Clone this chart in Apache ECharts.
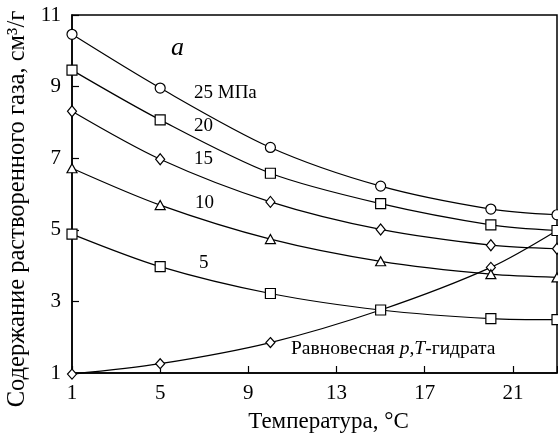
<!DOCTYPE html>
<html>
<head>
<meta charset="utf-8">
<script src="https://cdn.jsdelivr.net/npm/echarts@6/dist/echarts.min.js"></script>
<style>
html,body{margin:0;padding:0;background:#fff;}
#chart{width:558px;height:434px;}
</style>
</head>
<body>
<div id="chart"></div>
<script>
// Temperatures, °C
const temps = [1, 5, 10, 15, 20, 23];
// Dissolved gas content, cm3/g, by pressure
const p25 = [10.46, 8.96, 7.30, 6.22, 5.58, 5.42];
const p20 = [9.46, 8.07, 6.58, 5.73, 5.14, 4.98];
const p15 = [8.31, 6.97, 5.78, 5.01, 4.57, 4.47];
const p10 = [6.72, 5.69, 4.74, 4.12, 3.76, 3.67];
const p5  = [4.88, 3.97, 3.22, 2.76, 2.52, 2.49];
// Hydrate equilibrium p,T curve
const eqTemps = [1, 5, 10, 15, 20, 23];
const eqVals  = [0.97, 1.26, 1.85, 2.76, 3.95, 4.98];
const eqMarked = [true, true, true, false, true, false];
// Axis ticks
const xTicks = [1, 5, 9, 13, 17, 21];
const yTicks = [1, 3, 5, 7, 9, 11];
const curveLabels = ['25 МПа', '20', '15', '10', '5'];

const FONT = "'Liberation Serif', 'Times New Roman', serif";
const chart = echarts.init(document.getElementById('chart'));

function mk(vals, symbol, size) {
  return {
    type: 'line',
    data: temps.map((t, i) => [t, vals[i]]),
    smooth: 0.3,
    symbol: symbol,
    symbolSize: size,
    showAllSymbol: true,
    clip: false,
    lineStyle: {color: '#000', width: 1.2},
    itemStyle: {color: '#fff', borderColor: '#000', borderWidth: 1.2},
    emphasis: {disabled: true},
    z: 3
  };
}

const series = [
  mk(p25, 'circle', 10),
  mk(p20, 'rect', 10),
  mk(p15, 'diamond', [9, 11]),
  mk(p10, 'triangle', [10, 9]),
  mk(p5, 'rect', 10),
  {
    type: 'line',
    data: eqTemps.map((t, i) => eqMarked[i] ? [t, eqVals[i]] : {value: [t, eqVals[i]], symbol: 'none'}),
    smooth: 0.3,
    symbol: 'diamond',
    symbolSize: [9, 10],
    showAllSymbol: true,
    clip: false,
    lineStyle: {color: '#000', width: 1.2},
    itemStyle: {color: '#fff', borderColor: '#000', borderWidth: 1.2},
    emphasis: {disabled: true},
    z: 2
  }
];

const labelPos = [[194, 94], [194, 127], [194, 160], [195, 204], [199, 264]];

chart.setOption({
  animation: false,
  backgroundColor: '#fff',
  grid: {left: 72, right: 1, top: 15, bottom: 61, outerBoundsMode: 'none', containLabel: false,
    show: true, borderColor: '#000', borderWidth: 1.5, backgroundColor: 'transparent'},
  xAxis: {
    type: 'value', min: 1, max: 23, interval: 4,
    name: 'Температура, °С', nameLocation: 'middle', nameGap: 37,
    nameTextStyle: {fontFamily: FONT, fontSize: 23, color: '#000', padding: [0, 0, 0, 28]},
    axisLine: {show: true, lineStyle: {color: '#000', width: 1.5}},
    axisTick: {show: true, inside: true, length: 7, lineStyle: {color: '#000', width: 1.2}},
    axisLabel: {fontFamily: FONT, fontSize: 21, color: '#000', margin: 10,
      formatter: v => xTicks.indexOf(v) >= 0 ? String(v) : ''},
    splitLine: {show: false}
  },
  yAxis: {
    type: 'value', min: 1, max: 11, interval: 2,
    name: 'Содержание растворенного газа, см³/г', nameLocation: 'middle', nameGap: 35,
    nameTextStyle: {fontFamily: FONT, fontSize: 24.5, color: '#000', padding: [0, 30, 0, 0]},
    axisLine: {show: true, lineStyle: {color: '#000', width: 1.5}},
    axisTick: {show: true, inside: true, length: 7, lineStyle: {color: '#000', width: 1.2}},
    axisLabel: {fontFamily: FONT, fontSize: 21, color: '#000', margin: 11,
      formatter: v => yTicks.indexOf(v) >= 0 ? String(v) : ''},
    splitLine: {show: false}
  },
  series: series,
  graphic: [
    ...curveLabels.map((s, i) => ({
      type: 'text', left: labelPos[i][0], top: labelPos[i][1] - 10, z: 10,
      style: {text: s, font: '19px ' + FONT, fill: '#000'}
    })),
    {type: 'text', left: 171, top: 35, z: 10,
      style: {text: 'a', font: 'italic 26px ' + FONT, fill: '#000'}},
    {type: 'text', left: 291, top: 339, z: 10,
      style: {
        text: '{n|Равновесная }{i|p}{n|,}{i|T}{n|-гидрата}',
        rich: {
          n: {fontFamily: FONT, fontSize: 19.5, fill: '#000', color: '#000'},
          i: {fontFamily: FONT, fontSize: 19.5, fontStyle: 'italic', fill: '#000', color: '#000'}
        }
      }}
  ]
});
</script>
</body>
</html>
